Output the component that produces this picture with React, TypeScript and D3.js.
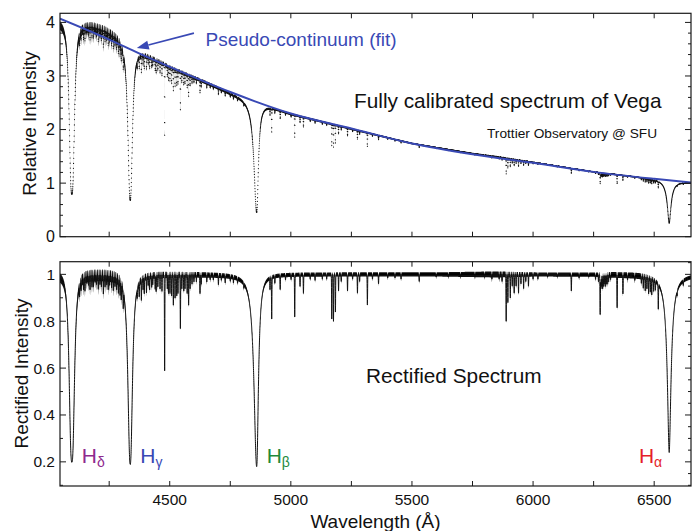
import React from "react";
import * as d3 from "d3";

// ---------- data ----------
const xDomain = [4047, 6652];
const topYDomain = [0, 4.17];
const botYDomain = [0.097, 1.054];

// pseudo-continuum fit (blue curve)
const fitWave = [4047, 4250, 4369, 4500, 4750, 5000, 5250, 5500, 5750, 6000, 6250, 6500, 6652];
const fitValue = [4.07, 3.68, 3.43, 3.17, 2.7, 2.3, 2.02, 1.74, 1.54, 1.38, 1.21, 1.08, 1.01];

// upper envelope of the calibrated spectrum (top panel)
const envWave = [4047, 4090, 4130, 4180, 4230, 4280, 4330, 4380, 4450, 4500, 4750, 5000, 5250, 5500, 5750, 5900, 6000, 6250, 6500, 6652];
const envValue = [4.0, 3.98, 3.95, 3.93, 3.86, 3.75, 3.6, 3.46, 3.29, 3.17, 2.69, 2.29, 2.01, 1.74, 1.55, 1.46, 1.39, 1.21, 1.08, 1.01];

// scatter (noise) half-amplitude of the spectrum, rectified units
const noiseWave = [4047, 4090, 4120, 4300, 4350, 4500, 4800, 4900, 5600, 5850, 6000, 6250, 6300, 6450, 6530, 6652];
const noiseAmp = [0.02, 0.02, 0.025, 0.025, 0.016, 0.013, 0.01, 0.009, 0.009, 0.013, 0.009, 0.009, 0.012, 0.013, 0.009, 0.009];

// Balmer lines
const balmerName = ["δ", "γ", "β", "α"];
const balmerWave = [4096, 4337, 4859, 6562];
const balmerDepth = [0.8, 0.81, 0.82, 0.76];
const balmerWidthL = [12, 11, 13, 9.5];
const balmerWidthR = [12, 10.5, 8.5, 9.5];
const balmerPower = [2.8, 2.4, 2.1, 1.8];
const balmerColor = ["#8e2a8e", "#3949b5", "#1f8a3c", "#e51f2a"];

// metal / telluric lines: wavelength (Å) and depth (rectified units)
const lineWave = [
  4128, 4134, 4144, 4150, 4158, 4165, 4171, 4179, 4185, 4192, 4198, 4205, 4212, 4218, 4226, 4233, 4240, 4246, 4252, 4260,
  4267, 4274, 4281, 4288, 4295, 4300, 4308,
  4366, 4374, 4383, 4390, 4395, 4404, 4411, 4417, 4425, 4430, 4440, 4444, 4451, 4460, 4468, 4479, 4490, 4495, 4501, 4508,
  4515, 4522, 4529, 4534, 4544, 4550, 4558, 4563, 4572, 4578, 4584, 4592, 4600, 4610, 4625, 4630, 4653, 4667, 4680, 4701,
  4713, 4729, 4750, 4763, 4780, 4806,
  4914, 4921, 4934, 4956, 4978, 5001, 5016, 5038, 5052, 5080, 5100, 5130, 5148, 5169, 5176, 5184, 5197, 5208, 5234, 5255,
  5275, 5284, 5316, 5337, 5362, 5400, 5430, 5455, 5530, 5600, 5650, 5700, 5760, 5800, 5830, 5860, 5872, 5889, 5896, 5906,
  5914, 5922, 5930, 5940, 5950, 5961, 5970, 5981, 6000, 6020, 6060, 6100, 6158, 6190, 6230, 6258, 6270, 6277, 6280, 6283,
  6287, 6290, 6294, 6298, 6302, 6306, 6312, 6320, 6347, 6371, 6390, 6420, 6447, 6455, 6463, 6470, 6477, 6484, 6490, 6498,
  6505, 6517, 6595, 6620,
];
const lineDepth = [
  0.05, 0.04, 0.05, 0.06, 0.03, 0.04, 0.06, 0.05, 0.05, 0.03, 0.04, 0.06, 0.04, 0.05, 0.08, 0.05, 0.04, 0.06, 0.04, 0.05,
  0.06, 0.04, 0.05, 0.06, 0.06, 0.07, 0.08,
  0.04, 0.06, 0.09, 0.05, 0.07, 0.07, 0.04, 0.06, 0.05, 0.04, 0.06, 0.07, 0.05, 0.06, 0.07, 0.41, 0.06, 0.08, 0.08, 0.09,
  0.13, 0.1, 0.09, 0.08, 0.23, 0.06, 0.07, 0.06, 0.08, 0.13, 0.06, 0.04, 0.03, 0.03, 0.08, 0.04, 0.03, 0.02, 0.02, 0.04,
  0.02, 0.03, 0.02, 0.025, 0.02, 0.02,
  0.05, 0.18, 0.03, 0.06, 0.02, 0.02, 0.18, 0.05, 0.08, 0.02, 0.025, 0.02, 0.02, 0.19, 0.2, 0.16, 0.07, 0.03, 0.07, 0.02,
  0.08, 0.03, 0.13, 0.02, 0.04, 0.015, 0.015, 0.02, 0.03, 0.01, 0.01, 0.01, 0.01, 0.01, 0.02, 0.02, 0.03, 0.2, 0.12, 0.1,
  0.05, 0.08, 0.05, 0.08, 0.04, 0.06, 0.03, 0.05, 0.02, 0.02, 0.01, 0.01, 0.07, 0.015, 0.01, 0.02, 0.03, 0.17, 0.06, 0.05,
  0.06, 0.05, 0.04, 0.05, 0.04, 0.04, 0.03, 0.02, 0.14, 0.08, 0.02, 0.02, 0.03, 0.05, 0.06, 0.05, 0.07, 0.06, 0.07, 0.05,
  0.04, 0.11, 0.02, 0.02,
];
const lineSigma = 0.8;

const topYTicks = [0, 1, 2, 3, 4];
const botYTicks = [0.2, 0.4, 0.6, 0.8, 1];
const botYTickLabels = ["0.2", "0.4", "0.6", "0.8", "1"];
const xLabelTicks = [4500, 5000, 5500, 6000, 6500];

// ---------- layout ----------
const W = 699;
const H = 531;
const X0 = 60;
const X1 = 691;
const T0 = 13.3;
const T1 = 236.7;
const B0 = 261.7;
const B1 = 486;
const FONT = "'Liberation Sans', Arial, Helvetica, sans-serif";
const BLUE = "#3949b5";

function rectified(w: number): number {
  let r = 1;
  for (let i = 0; i < balmerWave.length; i++) {
    const dl = w - balmerWave[i];
    const wd = dl < 0 ? balmerWidthL[i] : balmerWidthR[i];
    r *= 1 - balmerDepth[i] / (1 + Math.pow(Math.abs(dl) / wd, balmerPower[i]));
  }
  for (let i = 0; i < lineWave.length; i++) {
    const dl = w - lineWave[i];
    if (Math.abs(dl) > 6) continue;
    r *= 1 - lineDepth[i] * Math.exp(-(dl * dl) / (2 * lineSigma * lineSigma));
  }
  return r;
}

export default function App() {
  const xScale = d3.scaleLinear().domain(xDomain).range([X0, X1]);
  const yTop = d3.scaleLinear().domain(topYDomain).range([T1, T0]);
  const yBot = d3.scaleLinear().domain(botYDomain).range([B1, B0]);
  const env = d3.scaleLinear().domain(envWave).range(envValue).clamp(true);
  const noise = d3.scaleLinear().domain(noiseWave).range(noiseAmp).clamp(true);

  const samples = d3.range(xDomain[0], xDomain[1] + 0.001, 0.25);
  const rect = samples.map(rectified);

  const botPath =
    d3
      .line<number>()
      .x((_, i) => xScale(samples[i]))
      .y((d) => yBot(d))(rect) || "";

  const botBand =
    d3
      .area<number>()
      .x((_, i) => xScale(samples[i]))
      .y0((d, i) => yBot(d * (1 - noise(samples[i]))))
      .y1((d, i) => yBot(d * (1 + noise(samples[i]))))(rect) || "";

  const topBand =
    d3
      .area<number>()
      .x((_, i) => xScale(samples[i]))
      .y0((d, i) => yTop(d * env(samples[i]) * (1 - noise(samples[i]))))
      .y1((d, i) => yTop(d * env(samples[i]) * (1 + noise(samples[i]))))(rect) || "";

  let topDots = "";
  for (let i = 0; i < samples.length; i += 2) {
    const v = rect[i] * env(samples[i]);
    topDots += `M${xScale(samples[i]).toFixed(2)},${yTop(v).toFixed(2)}h0`;
  }

  const fitPath =
    d3
      .line<number>()
      .x((_, i) => xScale(fitWave[i]))
      .y((d) => yTop(d))
      .curve(d3.curveMonotoneX)(fitValue) || "";

  const xTickVals = d3.range(4250, 6501, 250);
  const topMinor = d3.range(0, 4.17, 0.2);
  const botMinorL = d3.range(0.1, 1.06, 0.1);
  const botMinorR = d3.range(0.1, 1.054, 0.05);

  const frameColor = "#1a1a1a";

  // arrow geometry (annotation)
  const tip = [xScale(4364), yTop(3.52)];
  const tail = [xScale(4600), yTop(3.8)];
  const dx = tail[0] - tip[0];
  const dy = tail[1] - tip[1];
  const len = Math.hypot(dx, dy);
  const ux = dx / len;
  const uy = dy / len;
  const hl = 12;
  const hw = 4.5;
  const bx = tip[0] + ux * hl;
  const by = tip[1] + uy * hl;
  const head = `M${tip[0]},${tip[1]}L${bx - uy * hw},${by + ux * hw}L${bx + uy * hw},${by - ux * hw}Z`;

  return (
    <svg
      width={W}
      height={H}
      viewBox={`0 0 ${W} ${H}`}
      style={{ position: "absolute", left: 0, top: 0, background: "#fff" }}
      fontFamily={FONT}
    >
      <defs>
        <clipPath id="clipTop">
          <rect x={X0} y={T0} width={X1 - X0} height={T1 - T0} />
        </clipPath>
        <clipPath id="clipBot">
          <rect x={X0} y={B0} width={X1 - X0} height={B1 - B0} />
        </clipPath>
      </defs>

      {/* ---------- top panel ---------- */}
      <g clipPath="url(#clipTop)">
        <path d={topBand} fill="#111" stroke="none" />
        <path d={topDots} stroke="#111" strokeWidth={1.2} strokeLinecap="round" fill="none" />
        <path d={fitPath} stroke={BLUE} strokeWidth={2} fill="none" />
      </g>
      <rect x={X0} y={T0} width={X1 - X0} height={T1 - T0} fill="none" stroke={frameColor} strokeWidth={1.2} />
      {xTickVals.map((t) => (
        <g key={"tx" + t} stroke={frameColor} strokeWidth={1}>
          <line x1={xScale(t)} x2={xScale(t)} y1={T1} y2={T1 - 5} />
          <line x1={xScale(t)} x2={xScale(t)} y1={T0} y2={T0 + 5} />
        </g>
      ))}
      {topMinor.map((t, i) => {
        const major = Math.abs(t - Math.round(t)) < 1e-6;
        const l = major ? 6 : 3;
        return (
          <g key={"ty" + i} stroke={frameColor} strokeWidth={1}>
            <line x1={X0} x2={X0 + l} y1={yTop(t)} y2={yTop(t)} />
            <line x1={X1} x2={X1 - l} y1={yTop(t)} y2={yTop(t)} />
          </g>
        );
      })}
      {topYTicks.map((t) => (
        <text key={"tl" + t} x={X0 - 5} y={yTop(t)} dy="0.35em" textAnchor="end" fontSize={16} fill="#111">
          {t}
        </text>
      ))}
      <text transform={`translate(35.5,123.5) rotate(-90)`} textAnchor="middle" fontSize={19} fill="#111">
        Relative Intensity
      </text>

      {/* annotations top */}
      <line x1={tail[0]} y1={tail[1]} x2={bx} y2={by} stroke={BLUE} strokeWidth={1.6} />
      <path d={head} fill={BLUE} />
      <text x={205.5} y={46} fontSize={19} fill={BLUE}>
        Pseudo-continuum (fit)
      </text>
      <text x={354} y={107.5} fontSize={20.8} fill="#111">
        Fully calibrated spectrum of Vega
      </text>
      <text x={487} y={137.5} fontSize={13.7} fill="#111">
        Trottier Observatory @ SFU
      </text>

      {/* ---------- bottom panel ---------- */}
      <g clipPath="url(#clipBot)">
        <path d={botBand} fill="#111" stroke="none" />
        <path d={botPath} stroke="#111" strokeWidth={1} fill="none" />
      </g>
      <rect x={X0} y={B0} width={X1 - X0} height={B1 - B0} fill="none" stroke={frameColor} strokeWidth={1.2} />
      {xTickVals.map((t) => (
        <g key={"bx" + t} stroke={frameColor} strokeWidth={1}>
          <line x1={xScale(t)} x2={xScale(t)} y1={B1} y2={B1 - 5} />
          <line x1={xScale(t)} x2={xScale(t)} y1={B0} y2={B0 + 5} />
        </g>
      ))}
      {botMinorL.map((t, i) => {
        const major = Math.abs(t * 5 - Math.round(t * 5)) < 1e-6;
        const l = major ? 6 : 3;
        return <line key={"bl" + i} x1={X0} x2={X0 + l} y1={yBot(t)} y2={yBot(t)} stroke={frameColor} strokeWidth={1} />;
      })}
      {botMinorR.map((t, i) => {
        const major = Math.abs(t * 5 - Math.round(t * 5)) < 1e-6;
        const l = major ? 6 : 3;
        return <line key={"br" + i} x1={X1} x2={X1 - l} y1={yBot(t)} y2={yBot(t)} stroke={frameColor} strokeWidth={1} />;
      })}
      {botYTicks.map((t, i) => (
        <text key={"byl" + i} x={X0 - 5} y={yBot(t)} dy="0.35em" textAnchor="end" fontSize={15.5} fill="#111">
          {botYTickLabels[i]}
        </text>
      ))}
      {xLabelTicks.map((t) => (
        <text key={"bxl" + t} x={xScale(t)} y={505} textAnchor="middle" fontSize={15.5} fill="#111">
          {t}
        </text>
      ))}
      <text transform={`translate(28,373.5) rotate(-90)`} textAnchor="middle" fontSize={19} fill="#111">
        Rectified Intensity
      </text>
      <text x={(X0 + X1) / 2} y={527.5} textAnchor="middle" fontSize={19} fill="#111">
        Wavelength (Å)
      </text>
      <text x={366} y={383.3} fontSize={20.8} fill="#111">
        Rectified Spectrum
      </text>

      {balmerWave.map((w, i) => {
        const isAlpha = i === 3;
        return (
          <text
            key={"bal" + i}
            x={xScale(w) + (isAlpha ? -7 : 10)}
            y={463.3}
            textAnchor={isAlpha ? "end" : "start"}
            fontSize={21}
            fill={balmerColor[i]}
          >
            H
            <tspan fontSize={14} dy={4}>
              {balmerName[i]}
            </tspan>
          </text>
        );
      })}
    </svg>
  );
}
